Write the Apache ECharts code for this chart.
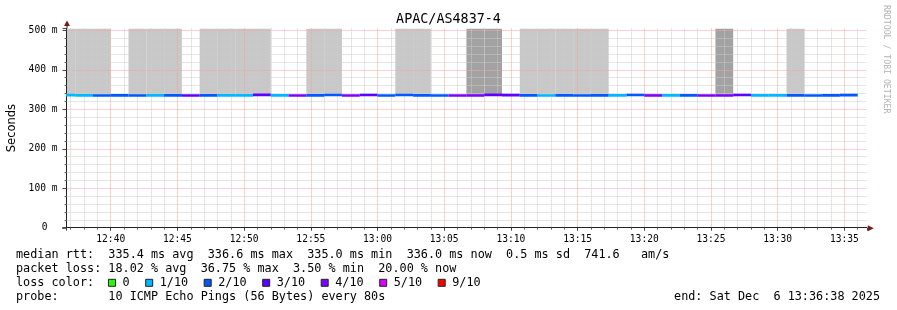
<!DOCTYPE html>
<html><head><meta charset="utf-8">
<script src="https://cdn.jsdelivr.net/npm/echarts@6/dist/echarts.min.js"></script>
<style>html,body{margin:0;padding:0;background:#fff}#c{width:897px;height:310px}</style>
</head><body><div id="c"></div>
<script>
// ---------- data ----------
const chartTitle = 'APAC/AS4837-4';
const yAxisName = 'Seconds';
const watermark = 'RRDTOOL / TOBI OETIKER';
// time window (minutes of day)
const viewStart = 12 * 60 + 36 + 41 / 60;   // 12:36:41
const viewEnd = 13 * 60 + 36 + 41 / 60;     // 13:36:41
const firstStep = 12 * 60 + 36;             // 12:36:00
const stepSeconds = 80;
const yTicks = [0, 100, 200, 300, 400, 500];
const yTop = 505;
// median rtt (ms) per 80 s step
const medianRtt = [
  336.0, 335.2, 335.1, 335.2, 335.1, 335.3, 335.2, 335.1, 335.2, 335.3,
  335.2, 336.5, 335.3, 335.0, 335.2, 336.4, 335.0, 336.3, 335.1, 336.4,
  335.2, 335.1, 335.0, 335.1, 336.6, 335.9, 335.2, 335.1, 335.2, 335.1,
  335.2, 335.3, 336.3, 335.1, 335.2, 335.3, 335.0, 335.1, 336.2, 335.2,
  335.3, 335.2, 335.1, 335.2, 336.0
];
// loss color index per step (into lossLabels)
const lossIndex = [
  1, 1, 2, 2, 2, 1, 2, 3, 2, 1,
  1, 3, 1, 4, 2, 2, 4, 3, 2, 2,
  2, 2, 4, 4, 3, 3, 2, 1, 2, 2,
  2, 1, 2, 4, 1, 2, 4, 4, 3, 1,
  1, 2, 2, 2, 2
];
// smoke shade per step: 0 none, 1 light, 2 dark (from median to top)
const smokeShade = [
  1, 1, 1, 0, 1, 1, 1, 0, 1, 1,
  1, 1, 0, 0, 1, 1, 0, 0, 0, 1,
  1, 0, 0, 2, 2, 0, 1, 1, 1, 1,
  1, 0, 0, 0, 0, 0, 0, 2, 0, 0,
  0, 1, 0, 0, 0
];
// fine smoke just above the median: [step, top ms, shade]
const fineSmokeStep = [24, 33];
const fineSmokeTop = [340.5, 339.5];
const fineSmokeShade = [3, 4];
const smokeColors = ['none', '#c8c8c8', '#a2a2a2', '#8a8a8a', '#b0b0b0'];

const lossLabels = ['0', '1/10', '2/10', '3/10', '4/10', '5/10', '9/10'];
const lossColors = ['#26ff00', '#00b8ff', '#0059ff', '#5e00ff', '#7e00ff', '#dd00ff', '#ff0000'];
const rttStats = [335.4, 336.6, 335.0, 336.0];   // avg max min now
const rttSd = 0.5;
const rttAmS = 741.6;
const lossStats = [18.02, 36.75, 3.50, 20.00];   // avg max min now
const probeText = '10 ICMP Echo Pings (56 Bytes) every 80s';
const endText = 'end: Sat Dec  6 13:36:38 2025';

// ---------- layout ----------
const W = 897, H = 310;
const G = { left: 66.5, right: 30.2, top: 28.4, bottom: 82.3 };
const mono = '"DejaVu Sans Mono", monospace';
const sans = '"DejaVu Sans", sans-serif';
const stepMin = stepSeconds / 60;

const stepRows = medianRtt.map((v, i) => [i, firstStep + i * stepMin, firstStep + (i + 1) * stepMin, v]);
const smokeRows = stepRows.filter(r => smokeShade[r[0]] > 0).map(r => [r[0], r[1], r[2], r[3], yTop, smokeShade[r[0]]]);
const fineRows = fineSmokeStep.map((s, k) => [s, stepRows[s][1], stepRows[s][2], stepRows[s][3], fineSmokeTop[k], fineSmokeShade[k]]);

function rectItem(api, color) {
  const p0 = api.coord([api.value(1), api.value(4)]);
  const p1 = api.coord([api.value(2), api.value(3)]);
  return { type: 'rect', shape: { x: p0[0], y: p0[1], width: p1[0] - p0[0], height: p1[1] - p0[1] }, style: { fill: color } };
}

function hhmm(v) {
  const h = Math.floor(v / 60 + 1e-9), m = Math.round(v - h * 60);
  return h + ':' + String(m).padStart(2, '0');
}

// legend text
const f1 = n => n.toFixed(1), f2 = n => n.toFixed(2);
const row1 = 'median rtt:  ' + f1(rttStats[0]) + ' ms avg  ' + f1(rttStats[1]) + ' ms max  ' + f1(rttStats[2]) + ' ms min  ' +
  f1(rttStats[3]) + ' ms now  ' + f1(rttSd) + ' ms sd  ' + f1(rttAmS) + '   am/s';
const row2 = 'packet loss: ' + f2(lossStats[0]) + ' % avg  ' + f2(lossStats[1]) + ' % max  ' + f2(lossStats[2]) + ' % min  ' + f2(lossStats[3]) + ' % now';
const row4 = 'probe:       ' + probeText;

const legFont = '11.8px ' + mono;
const charW = 7.1;
const legX = 16;
const rowY = [254.5, 268.5, 282.8, 297];
const graphics = [];
function txt(x, y, s, font, opts) {
  graphics.push(Object.assign({ type: 'text', x: x, y: y, silent: true, style: Object.assign({ text: s, font: font, fill: '#000', align: 'left', verticalAlign: 'middle' }, (opts && opts.style) || {}) }, (opts && opts.el) || {}));
}
txt(W / 2, 19.5, chartTitle, '13.4px ' + mono, { style: { align: 'center' } });
txt(886, 5, watermark, '8.2px ' + mono, { style: { fill: '#b4b4b4' }, el: { rotation: -Math.PI / 2 } });
txt(legX, rowY[0], row1, legFont);
txt(legX, rowY[1], row2, legFont);
txt(legX, rowY[2], 'loss color:', legFont);
txt(legX, rowY[3], row4, legFont);
txt(880, rowY[3], endText, legFont, { style: { align: 'right' } });
let bx = legX + 13 * charW - 0.3;
lossLabels.forEach((lab, i) => {
  graphics.push({ type: 'rect', silent: true, shape: { x: bx + 0.5, y: rowY[2] - 3.5, width: 7, height: 7 }, style: { fill: lossColors[i], stroke: '#222', lineWidth: 1 } });
  txt(bx + 14.5, rowY[2], lab, legFont);
  bx += 14.5 + lab.length * charW + 15.6;
});
// axis arrows
const plotR = W - G.right, plotB = H - G.bottom;
graphics.push({ type: 'line', silent: true, shape: { x1: G.left - 4.5, y1: plotB + 0.5, x2: G.left, y2: plotB + 0.5 }, style: { stroke: '#222', lineWidth: 1 } });
graphics.push({ type: 'line', silent: true, shape: { x1: G.left + 0.5, y1: G.top, x2: G.left + 0.5, y2: G.top - 3 }, style: { stroke: '#222', lineWidth: 1 } });
graphics.push({ type: 'polygon', silent: true, shape: { points: [[plotR + 1, plotB - 2.5], [plotR + 7, plotB + 0.5], [plotR + 1, plotB + 3.5]] }, style: { fill: '#7a1a1a' } });
graphics.push({ type: 'polygon', silent: true, shape: { points: [[G.left - 2.5, G.top - 2.5], [G.left + 0.5, G.top - 8], [G.left + 3.5, G.top - 2.5]] }, style: { fill: '#7a1a1a' } });

const majorGrid = '#f4a4a4', minorGrid = '#cccccc';
const tickFont = { fontFamily: mono, fontSize: 9.6, color: '#000' };

const chart = echarts.init(document.getElementById('c'), null, { renderer: 'canvas' });
chart.setOption({
  animation: false,
  backgroundColor: '#fff',
  grid: { left: G.left, right: G.right, top: G.top, bottom: G.bottom, containLabel: false, outerBoundsMode: 'none' },
  xAxis: {
    type: 'value', min: viewStart, max: viewEnd, splitNumber: 12, minInterval: 5, maxInterval: 5, z: 3,
    axisLine: { show: true, lineStyle: { color: '#222', width: 1 } },
    axisTick: { show: true, length: 3, lineStyle: { color: '#444' } },
    minorTick: { show: true, splitNumber: 5, length: 2, lineStyle: { color: '#666' } },
    splitLine: { show: true, showMinLine: false, showMaxLine: false, lineStyle: { color: majorGrid, type: 'dotted', width: 1 } },
    minorSplitLine: { show: true, lineStyle: { color: minorGrid, type: 'dotted', width: 1 } },
    axisLabel: Object.assign({ margin: 7, showMinLabel: false, showMaxLabel: false,
      formatter: v => (Math.abs(v / 5 - Math.round(v / 5)) < 1e-6 ? hhmm(v) : '') }, tickFont)
  },
  yAxis: {
    type: 'value', min: 0, max: yTop, interval: 100, z: 3,
    name: yAxisName, nameLocation: 'middle', nameRotate: 90, nameGap: 48,
    nameTextStyle: { fontFamily: sans, fontSize: 11.5, color: '#000' },
    axisLine: { show: true, lineStyle: { color: '#222', width: 1 } },
    axisTick: { show: true, length: 4, lineStyle: { color: '#444' } },
    minorTick: { show: true, splitNumber: 5, length: 2, lineStyle: { color: '#666' } },
    splitLine: { show: true, showMinLine: false, showMaxLine: false, lineStyle: { color: majorGrid, type: 'dotted', width: 1 } },
    minorSplitLine: { show: true, lineStyle: { color: minorGrid, type: 'dotted', width: 1 } },
    axisLabel: Object.assign({ margin: 9, showMaxLabel: false,
      formatter: v => (yTicks.indexOf(v) < 0 ? '' : (v === 0 ? '{z|0}' : v + ' m')),
      rich: { z: { fontFamily: mono, fontSize: 9.6, color: '#000', padding: [0, 10, 0, 0] } } }, tickFont)
  },
  series: [
    { type: 'custom', name: 'smoke', z: 2, clip: true, silent: true, data: smokeRows,
      renderItem: (p, api) => rectItem(api, smokeColors[api.value(5)]) },
    { type: 'custom', name: 'fine smoke', z: 2, clip: true, silent: true, data: fineRows,
      renderItem: (p, api) => rectItem(api, smokeColors[api.value(5)]) },
    { type: 'custom', name: 'median', z: 4, clip: true, silent: true, data: stepRows,
      renderItem: (p, api) => {
        const p0 = api.coord([api.value(1), api.value(3)]);
        const p1 = api.coord([api.value(2), api.value(3)]);
        return { type: 'rect', shape: { x: p0[0], y: p0[1] - 1.3, width: p1[0] - p0[0], height: 2.6 },
          style: { fill: lossColors[lossIndex[api.value(0)]] } };
      } }
  ],
  graphic: graphics
});
</script></body></html>
